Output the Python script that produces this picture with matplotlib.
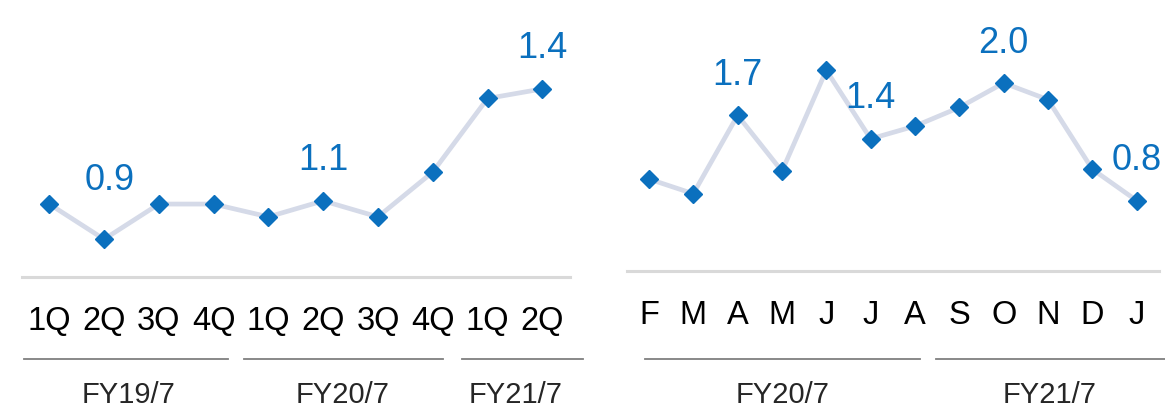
import matplotlib
matplotlib.use("Agg")
import matplotlib.pyplot as plt
from matplotlib.transforms import blended_transform_factory

plt.rcParams['font.family'] = ['Liberation Sans', 'DejaVu Sans']

# quarterly chart (left)
q_labels = ['1Q', '2Q', '3Q', '4Q', '1Q', '2Q', '3Q', '4Q', '1Q', '2Q']
q_values = [1.05, 0.94, 1.05, 1.05, 1.01, 1.06, 1.01, 1.15, 1.38, 1.41]
q_marked = [1, 5, 9]
q_groups = ['FY19/7', 'FY20/7', 'FY21/7']

# monthly chart (right)
m_labels = ['F', 'M', 'A', 'M', 'J', 'J', 'A', 'S', 'O', 'N', 'D', 'J']
m_values = [1.02, 0.87, 1.67, 1.10, 2.13, 1.43, 1.56, 1.75, 2.00, 1.83, 1.12, 0.80]
m_marked = [2, 5, 8, 11]
m_groups = ['FY20/7', 'FY21/7']

line_col = '#D5DAE8'
dot_col = '#0B70BE'
base_col = '#D9D9D9'
grp_col = '#7F7F7F'

fig = plt.figure(figsize=(11.65, 4.10), dpi=100)
ax1 = fig.add_axes([0.0188, 0.3212, 0.4702, 0.6788])
ax2 = fig.add_axes([0.5380, 0.3359, 0.4567, 0.6641])


def draw(ax, labels, values, marked, ylim, offsets):
    x = list(range(len(values)))
    ax.plot(x, values, color=line_col, lw=3.4, zorder=2, clip_on=False)
    ax.plot(x, values, ls='none', marker='D', ms=9.5, color=dot_col, zorder=3, clip_on=False)
    for i in marked:
        dx, dy = offsets.get(i, (0, 29.5))
        ax.annotate(f"{values[i]:.1f}", (i, values[i]), xytext=(dx, dy),
                    textcoords='offset points', ha='center', va='center',
                    fontsize=26, color=dot_col)
    ax.set_xlim(-0.5, len(values) - 0.5)
    ax.set_ylim(*ylim)
    ax.set_xticks(x)
    ax.set_xticklabels(labels, fontsize=23.5, color='black')
    ax.tick_params(axis='x', length=0, pad=20)
    ax.set_yticks([])
    for s in ['top', 'left', 'right']:
        ax.spines[s].set_visible(False)
    ax.spines['bottom'].set_color(base_col)
    ax.spines['bottom'].set_linewidth(2.2)
    ax.patch.set_alpha(0)


draw(ax1, q_labels, q_values, q_marked, (0.821, 1.691), {1: (4.3, 43)})
draw(ax2, m_labels, m_values, m_marked, (0.0786, 2.857), {})


def groups(ax, names, spans, centers):
    tr = blended_transform_factory(ax.transData, fig.transFigure)
    for name, (a, b), c in zip(names, spans, centers):
        ax.plot([a, b], [0.122, 0.122], color=grp_col, lw=1.3, transform=tr, clip_on=False)
        ax.text(c, 0.002, name, transform=tr, ha='center', va='bottom',
                fontsize=21, color='#262626')


groups(ax1, q_groups, [(-0.46, 3.26), (3.56, 7.18), (7.53, 9.75)], [1.44, 5.36, 8.52])
groups(ax2, m_groups, [(-0.09, 6.11), (6.47, 11.65)], [3.02, 9.04])

fig.savefig('out.png', dpi=100)
